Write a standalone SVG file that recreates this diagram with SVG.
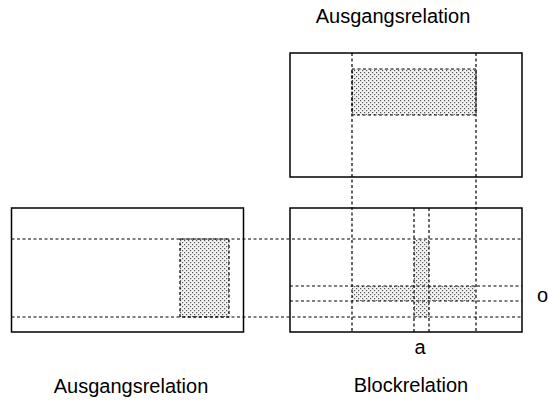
<svg xmlns="http://www.w3.org/2000/svg" width="548" height="403" viewBox="0 0 548 403">
  <defs>
    <pattern id="stipple" width="4" height="4" patternUnits="userSpaceOnUse">
      <rect width="4" height="4" fill="#f4f4f4"/>
      <rect x="0" y="0" width="1.2" height="1.2" fill="#555"/>
      <rect x="2" y="2" width="1.2" height="1.2" fill="#555"/>
    </pattern>
  </defs>
  <style>
    .frame { fill: none; stroke: #000; stroke-width: 1.5; }
    .grid { fill: none; stroke: #000; stroke-width: 1.2; stroke-dasharray: 3 2.5; }
    .hit { fill: url(#stipple); stroke: none; }
    .label { font-family: "Liberation Sans", Arial, sans-serif; font-size: 20px; fill: #000; }
  </style>
  <rect width="548" height="403" fill="#fff"/>

  <!-- top relation -->
  <g id="top-relation">
    <rect class="frame" x="290" y="53" width="232" height="124"/>
    <rect class="hit" x="352" y="69" width="124" height="46"/>
    <rect class="grid" x="352" y="69" width="124" height="46"/>
    <text class="label" x="393" y="23" text-anchor="middle">Ausgangsrelation</text>
  </g>

  <!-- left relation -->
  <g id="left-relation">
    <rect class="frame" x="11.5" y="208" width="232" height="124"/>
    <rect class="hit" x="180" y="239" width="49" height="78"/>
    <rect class="grid" x="180" y="239" width="49" height="78"/>
    <text class="label" x="131" y="393" text-anchor="middle">Ausgangsrelation</text>
  </g>

  <!-- block relation -->
  <g id="block-relation">
    <rect class="hit" x="414" y="239" width="15" height="78"/>
    <rect class="hit" x="352" y="286" width="124" height="15"/>
    <rect class="frame" x="290" y="208" width="232" height="124"/>
    <text class="label" x="411" y="392" text-anchor="middle">Blockrelation</text>
    <text class="label" x="420" y="354" text-anchor="middle">a</text>
    <text class="label" x="537" y="302">o</text>
  </g>

  <!-- dashed guide lines -->
  <g id="connectors">
    <line class="grid" x1="352" y1="53" x2="352" y2="332"/>
    <line class="grid" x1="476" y1="53" x2="476" y2="332"/>
    <line class="grid" x1="414" y1="208" x2="414" y2="332"/>
    <line class="grid" x1="429" y1="208" x2="429" y2="332"/>
    <line class="grid" x1="11.5" y1="239" x2="522" y2="239"/>
    <line class="grid" x1="11.5" y1="317" x2="522" y2="317"/>
    <line class="grid" x1="290" y1="286" x2="522" y2="286"/>
    <line class="grid" x1="290" y1="301" x2="522" y2="301"/>
  </g>
</svg>
